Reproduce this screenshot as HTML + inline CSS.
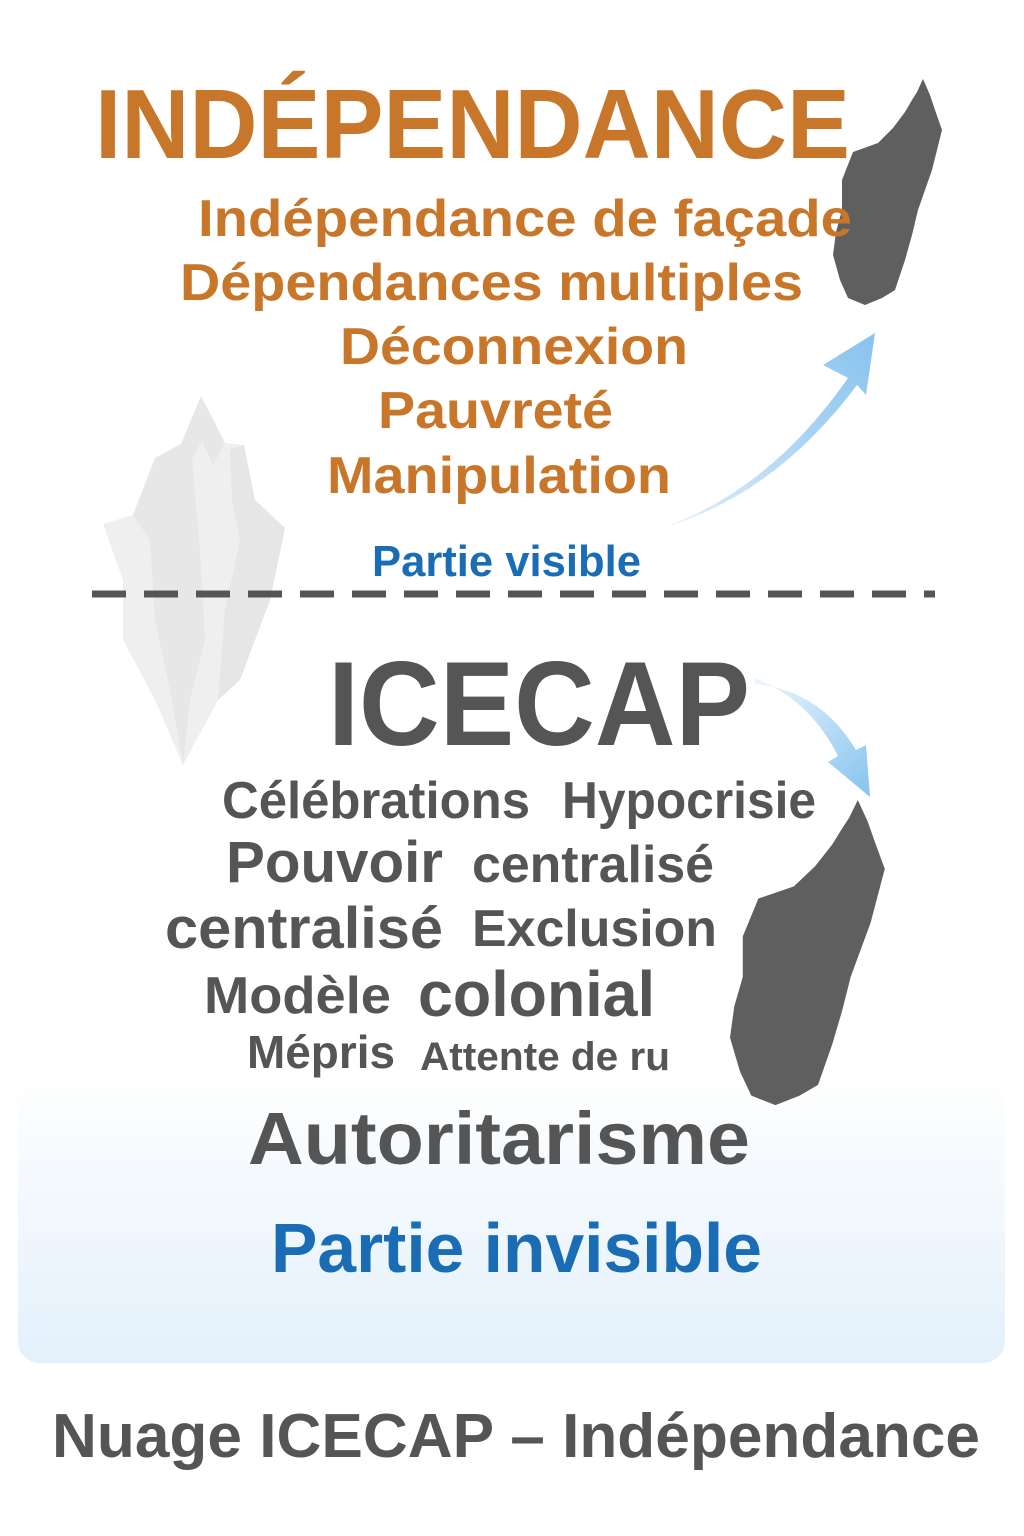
<!DOCTYPE html>
<html><head><meta charset="utf-8"><style>
html,body{margin:0;padding:0;background:#fff;}
svg{display:block;}
text{font-family:"Liberation Sans",sans-serif;font-weight:bold;}
</style></head><body>
<svg width="1024" height="1536" viewBox="0 0 1024 1536" xmlns="http://www.w3.org/2000/svg">
<defs>
<linearGradient id="panel" x1="0" y1="0" x2="0" y2="1">
<stop offset="0" stop-color="#ffffff"/><stop offset="1" stop-color="#e3f0fb"/></linearGradient>
<linearGradient id="arr1" x1="662" y1="528" x2="875" y2="333" gradientUnits="userSpaceOnUse">
<stop offset="0" stop-color="#e6f1fb"/><stop offset="0.6" stop-color="#a9d3f3"/><stop offset="1" stop-color="#86c3ef"/></linearGradient>
<linearGradient id="arr2" x1="755" y1="680" x2="870" y2="797" gradientUnits="userSpaceOnUse">
<stop offset="0" stop-color="#eef6fd"/><stop offset="1" stop-color="#86c3ef"/></linearGradient>
</defs>
<rect x="18" y="1070" width="987" height="293" rx="22" fill="url(#panel)"/>

<polygon points="201,396 225,443 244,445 255,500 285,528 270,600 255,640 218,700 183,765 155,700 123,640 123,580 103,524 133,515 155,458 181,444" fill="#efefef"/>
<polygon points="201,396 225,443 213,465 202,440 192,460 200,550 205,640 190,700 183,765 170,690 155,620 150,540 133,515 155,458 181,444" fill="#e4e4e4" opacity="0.7"/>
<polygon points="230,450 244,445 255,500 285,528 270,600 240,680 218,700 225,610 240,540 232,500" fill="#e6e6e6"/>

<path d="M923,79 L930,95 L935,110 L942,130 L937,150 L932,170 L925,190 L918,210 L912,235 L905,260 L895,290 L882,298 L865,305 L848,298 L840,280 L833,255 L836,232 L842,210 L842,180 L853,152 L878,143 L893,128 L905,112 L912,100 L917,92 Z" fill="#5f5f5f"/>
<g transform="translate(730,800) scale(1.42,1.35) translate(-833,-79)">
<path d="M923,79 L930,95 L935,110 L942,130 L937,150 L932,170 L925,190 L918,210 L912,235 L905,260 L895,290 L882,298 L865,305 L848,298 L840,280 L833,255 L836,232 L842,210 L842,180 L853,152 L878,143 L893,128 L905,112 L912,100 L917,92 Z" fill="#5f5f5f"/>
</g>

<path d="M662,528 Q770,490 848,378 L823,365 L875,333 L866,395 L857,385 Q775,495 662,528 Z" fill="url(#arr1)"/>
<path d="M755,678 Q810,700 838,756 L828,762 L870,797 L866,745 L856,750 Q820,690 755,684 Z" fill="url(#arr2)"/>

<line x1="92" y1="594" x2="935" y2="594" stroke="#555" stroke-width="7" stroke-dasharray="34,18"/>

<text x="95" y="158" font-size="98" fill="#c8772a" textLength="755" lengthAdjust="spacingAndGlyphs">INDÉPENDANCE</text>
<g fill="#c8772a">
<text x="198" y="236" font-size="52" textLength="654" lengthAdjust="spacingAndGlyphs">Indépendance de façade</text>
<text x="180" y="300" font-size="52" textLength="623" lengthAdjust="spacingAndGlyphs">Dépendances multiples</text>
<text x="340" y="364" font-size="52" textLength="348" lengthAdjust="spacingAndGlyphs">Déconnexion</text>
<text x="378" y="428" font-size="52" textLength="235" lengthAdjust="spacingAndGlyphs">Pauvreté</text>
<text x="327" y="493" font-size="52" textLength="344" lengthAdjust="spacingAndGlyphs">Manipulation</text>
</g>
<text x="372" y="576" font-size="44" fill="#1a6db4" textLength="269" lengthAdjust="spacingAndGlyphs">Partie visible</text>

<g fill="#555">
<text x="328" y="745" font-size="120" textLength="422" lengthAdjust="spacingAndGlyphs">ICECAP</text>
<text x="222" y="818" font-size="52" textLength="308" lengthAdjust="spacingAndGlyphs">Célébrations</text>
<text x="562" y="818" font-size="52" textLength="254" lengthAdjust="spacingAndGlyphs">Hypocrisie</text>
<text x="226" y="882" font-size="58" textLength="217" lengthAdjust="spacingAndGlyphs">Pouvoir</text>
<text x="472" y="882" font-size="52" textLength="242" lengthAdjust="spacingAndGlyphs">centralisé</text>
<text x="165" y="948" font-size="58" textLength="278" lengthAdjust="spacingAndGlyphs">centralisé</text>
<text x="472" y="946" font-size="52" textLength="245" lengthAdjust="spacingAndGlyphs">Exclusion</text>
<text x="204" y="1013" font-size="52" textLength="187" lengthAdjust="spacingAndGlyphs">Modèle</text>
<text x="418" y="1016" font-size="64" textLength="237" lengthAdjust="spacingAndGlyphs">colonial</text>
<text x="247" y="1068" font-size="46" textLength="148" lengthAdjust="spacingAndGlyphs">Mépris</text>
<text x="420" y="1070" font-size="40" textLength="250" lengthAdjust="spacingAndGlyphs">Attente de ru</text>
<text x="248" y="1164" font-size="74" textLength="502" lengthAdjust="spacingAndGlyphs">Autoritarisme</text>
</g>
<text x="271" y="1272" font-size="70" fill="#1a6db4" textLength="491" lengthAdjust="spacingAndGlyphs">Partie invisible</text>
<text x="52" y="1457" font-size="62" fill="#555" textLength="928" lengthAdjust="spacingAndGlyphs">Nuage ICECAP – Indépendance</text>
</svg>
</body></html>
